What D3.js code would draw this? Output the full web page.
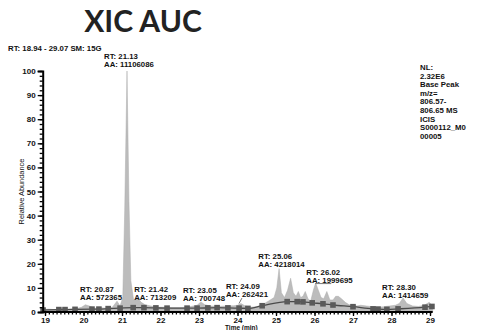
<!DOCTYPE html>
<html>
<head>
<meta charset="utf-8">
<script src="https://cdn.jsdelivr.net/npm/d3@7"></script>
<style>
  body { margin: 0; background: #fff; }
  svg { display: block; }
  .lbl { font-family: "Liberation Sans", Arial, sans-serif; font-weight: bold; font-size: 7.8px; fill: #111; }
  .tick text { font-family: "Liberation Sans", Arial, sans-serif; font-weight: bold; font-size: 8px; fill: #111; }
</style>
</head>
<body>
<svg id="chart" width="480" height="330"></svg>
<script>
// chromatogram trace: retention time (min) / relative abundance
const traceTime = [18.94, 19.1, 19.3, 19.45, 19.6, 19.8, 19.95, 20.05, 20.15, 20.3, 20.45, 20.6, 20.75, 20.87, 20.95,
  21.02, 21.07, 21.13, 21.18, 21.23, 21.3, 21.42, 21.5, 21.6, 21.75, 21.9, 22.1, 22.3, 22.5, 22.7, 22.85, 22.95,
  23.05, 23.15, 23.3, 23.5, 23.7, 23.9, 24.0, 24.09, 24.2, 24.35, 24.5, 24.65, 24.8, 24.95, 25.02, 25.08, 25.14,
  25.22, 25.3, 25.38, 25.45, 25.52, 25.58, 25.64, 25.7, 25.76, 25.83, 25.9, 25.97, 26.03, 26.1, 26.17, 26.24,
  26.32, 26.4, 26.48, 26.55, 26.62, 26.7, 26.8, 26.9, 27.0, 27.1, 27.2, 27.35, 27.5, 27.65, 27.8, 27.95, 28.1,
  28.2, 28.3, 28.4, 28.55, 28.7, 28.85, 28.98, 29.07];
const traceAbund = [1.0, 1.2, 0.9, 1.5, 1.0, 1.3, 2.0, 3.0, 2.5, 1.5, 1.8, 1.5, 2.0, 4.5, 2.5,
  6, 42, 100, 46, 13, 5, 5.5, 4, 3, 2.5, 2, 2, 1.8, 1.8, 2, 2.5, 2.8,
  4.2, 3, 2.5, 2.3, 2.5, 2.6, 2.8, 3.5, 2.5, 2, 2.2, 3, 4.5, 6, 10, 18, 8,
  6, 9, 14, 8, 6.5, 8.5, 6, 6.5, 8.5, 5.5, 4.5, 9, 12, 9, 6, 5.5,
  8.5, 5, 5, 6.5, 6.5, 5.5, 4, 3, 3, 2.5, 2.8, 2.5, 2.2, 2.0, 2.2, 2.5, 2.8,
  3.5, 5.8, 3.5, 2.5, 2.3, 2.8, 4, 2.5];

// fitted baseline with its anchor points
const baseTime = [18.95, 19.36, 19.52, 19.78, 20.22, 20.40, 20.64, 20.95, 21.29, 21.57, 21.88, 22.17, 22.69, 22.95,
  23.23, 23.47, 23.75, 24.04, 24.27, 24.64, 25.29, 25.55, 25.70, 25.94, 26.22, 26.48, 27.00, 27.52, 27.65,
  27.88, 28.17, 28.87, 29.05];
const baseAbund = [0.8, 1.0, 1.0, 1.1, 1.2, 1.2, 1.4, 1.6, 1.8, 1.8, 1.7, 1.6, 1.6, 1.6,
  1.7, 1.8, 1.7, 1.6, 1.5, 2.6, 4.3, 4.3, 4.2, 3.8, 3.4, 2.9, 2.2, 1.3, 1.2,
  1.1, 1.3, 2.0, 2.3];

// labelled peaks
const peakRT = ['20.87', '21.13', '21.42', '23.05', '24.09', '25.06', '26.02', '28.30'];
const peakAA = ['572365', '11106086', '713209', '700748', '262421', '4218014', '1999695', '1414659'];
const labelLevel = [5, 101.5, 5, 4.6, 6.2, 18.7, 12, 5.8];

const xTicks = d3.range(19, 30, 1);
const yTicks = d3.range(0, 101, 10);
const infoLines = ['NL:', '2.32E6', 'Base Peak', 'm/z=', '806.57-', '806.65  MS', 'ICIS', 'S000112_M0', '00005'];

const trace = traceTime.map((t, i) => ({ t: t, v: traceAbund[i] }));
const base = baseTime.map((t, i) => ({ t: t, v: baseAbund[i] }));

const svg = d3.select('#chart');
const x = d3.scaleLinear().domain([18.94, 29.07]).range([42.7, 432.7]);
const y = d3.scaleLinear().domain([0, 100]).range([312, 71]);

// title
svg.append('text')
  .attr('x', 143).attr('y', 32)
  .attr('text-anchor', 'middle')
  .style('font-family', 'Lato, "Open Sans", sans-serif')
  .style('font-weight', 'bold')
  .style('font-size', '30px')
  .style('fill', '#222')
  .text('XIC AUC');

svg.append('text').attr('class', 'lbl')
  .attr('x', 8).attr('y', 51)
  .text('RT: 18.94 - 29.07 SM: 15G');

// filled trace
const area = d3.area()
  .x(d => x(d.t))
  .y0(y(0))
  .y1(d => y(d.v));
svg.append('path')
  .datum(trace)
  .attr('d', area)
  .attr('fill', '#bcbcbc')
  .attr('stroke', '#adadad')
  .attr('stroke-width', 0.5);

// baseline
const line = d3.line()
  .x(d => x(d.t))
  .y(d => y(d.v))
  .curve(d3.curveMonotoneX);
svg.append('path')
  .datum(base)
  .attr('d', line)
  .attr('fill', 'none')
  .attr('stroke', '#4a4a4a')
  .attr('stroke-width', 1.3);
svg.selectAll('.sq')
  .data(base)
  .enter().append('rect')
  .attr('class', 'sq')
  .attr('x', d => x(d.t) - 2.8)
  .attr('y', d => y(d.v) - 2.8)
  .attr('width', 5.6)
  .attr('height', 5.6)
  .attr('fill', '#5a5a5a');

// axes
const xAxis = d3.axisBottom(x).tickValues(xTicks).tickFormat(d3.format('d')).tickSize(4).tickPadding(1);
const xMinor = d3.axisBottom(x).tickValues(d3.range(190, 291, 1).map(d => d / 10)).tickFormat('').tickSize(2.5);
const yAxis = d3.axisLeft(y).tickValues(yTicks).tickSize(5).tickPadding(2);
const yMinor = d3.axisLeft(y).tickValues(d3.range(0, 101, 2)).tickFormat('').tickSize(3);

const gxm = svg.append('g').attr('transform', 'translate(0,' + y(0) + ')').call(xMinor);
const gx = svg.append('g').attr('transform', 'translate(0,' + y(0) + ')').call(xAxis);
const gym = svg.append('g').attr('transform', 'translate(' + x(18.94) + ',0)').call(yMinor);
const gy = svg.append('g').attr('transform', 'translate(' + x(18.94) + ',0)').call(yAxis);
[gxm, gx, gym, gy].forEach(g => {
  g.select('.domain').attr('stroke', '#000').attr('stroke-width', 2);
  g.selectAll('.tick line').attr('stroke', '#000').attr('stroke-width', 1.3);
});
gx.selectAll('.domain').attr('d', 'M' + x(18.94) + ',0H' + x(29.07));
gxm.select('.domain').remove();
gym.select('.domain').remove();

svg.append('text')
  .attr('transform', 'translate(24,' + y(50) + ') rotate(-90)')
  .attr('text-anchor', 'middle')
  .style('font-family', '"Liberation Sans", Arial, sans-serif')
  .style('font-size', '7.4px')
  .style('fill', '#111')
  .text('Relative Abundance');

svg.append('text')
  .attr('x', x(24.1)).attr('y', 329.5)
  .attr('text-anchor', 'middle')
  .style('font-family', '"Liberation Sans", Arial, sans-serif')
  .style('font-weight', 'bold')
  .style('font-size', '6.5px')
  .style('fill', '#111')
  .text('Time (min)');

// peak labels
const shift = [-37, -23, -4, -18, -15, -20, -9, -21];
peakRT.forEach((rt, i) => {
  const lx = x(+rt) + shift[i];
  const ly = y(labelLevel[i]);
  const t = svg.append('text').attr('class', 'lbl');
  t.append('tspan').attr('x', lx).attr('y', ly - 8.3).text('RT: ' + rt);
  t.append('tspan').attr('x', lx).attr('y', ly).text('AA: ' + peakAA[i]);
});
// leader lines
svg.append('line')
  .attr('x1', x(24.09) + 1).attr('y1', y(6.2) + 1)
  .attr('x2', x(24.09) - 2).attr('y2', y(3.5))
  .attr('stroke', '#555').attr('stroke-width', 0.8);
svg.append('line')
  .attr('x1', x(26.02)).attr('y1', y(12) + 0.5)
  .attr('x2', x(26.02) + 16).attr('y2', y(12) + 0.5)
  .attr('stroke', '#555').attr('stroke-width', 0.8);

// info block
svg.append('g').selectAll('text')
  .data(infoLines)
  .enter().append('text')
  .attr('class', 'lbl')
  .attr('x', 420)
  .attr('y', (d, i) => 70 + i * 8.6)
  .text(d => d);
</script>
</body>
</html>
